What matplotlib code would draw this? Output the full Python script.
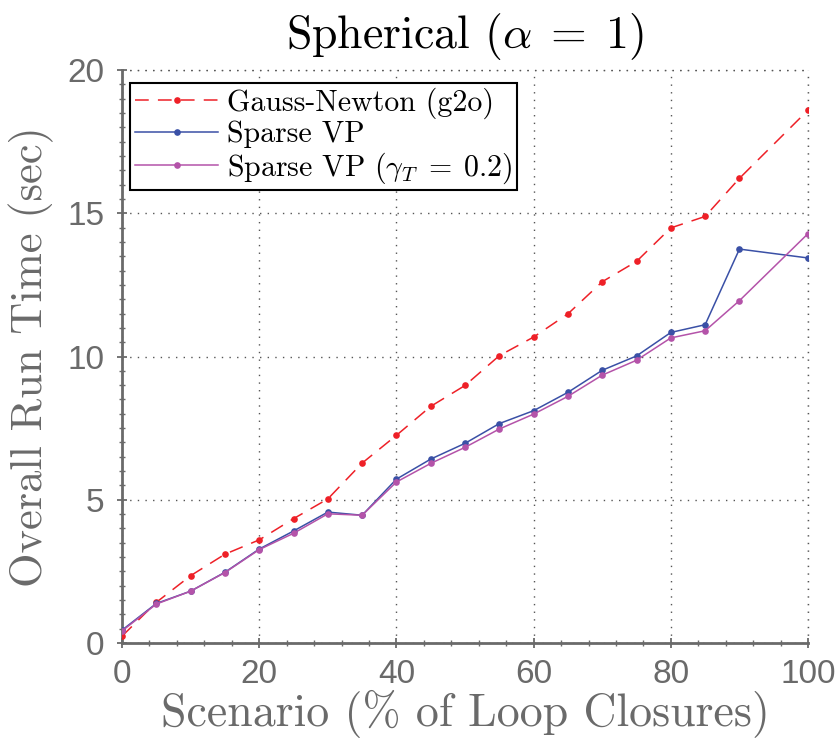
import matplotlib
matplotlib.use("Agg")
import matplotlib.pyplot as plt
from matplotlib.ticker import MultipleLocator

plt.rcParams['mathtext.fontset'] = 'cm'
plt.rcParams['axes.unicode_minus'] = False

scenario = [0, 5, 10, 15, 20, 25, 30, 35, 40, 45, 50, 55, 60, 65, 70, 75, 80, 85, 90, 100]
gauss_newton = [0.24, 1.42, 2.35, 3.10, 3.60, 4.34, 5.03, 6.28, 7.25, 8.26, 8.99, 10.03, 10.68,
                11.49, 12.61, 13.32, 14.49, 14.89, 16.22, 18.60]
sparse_vp = [0.45, 1.38, 1.81, 2.47, 3.28, 3.91, 4.57, 4.46, 5.72, 6.42, 6.97, 7.66, 8.11,
             8.75, 9.52, 10.02, 10.84, 11.11, 13.75, 13.44]
sparse_vp_gamma = [0.42, 1.36, 1.81, 2.46, 3.26, 3.83, 4.51, 4.46, 5.62, 6.27, 6.83, 7.47, 7.99,
                   8.61, 9.35, 9.87, 10.65, 10.90, 11.95, 14.29]

red = '#ee2027'
blue = '#3a50a6'
magenta = '#b453a9'
gray = '#6a6a6a'

fig = plt.figure(figsize=(8.37, 7.49), dpi=100)
ax = fig.add_axes([0.1458, 0.1415, 0.8196, 0.7650])

ax.plot(scenario, gauss_newton, color=red, lw=1.1, ls=(0, (9, 6)), marker='o', ms=4.8,
        markeredgewidth=0, label='Gauss-Newton (g2o)', zorder=3)
ax.plot(scenario, sparse_vp, color=blue, lw=1.1, marker='o', ms=4.8,
        markeredgewidth=0, label='Sparse VP', zorder=4)
ax.plot(scenario, sparse_vp_gamma, color=magenta, lw=1.1, marker='o', ms=4.8,
        markeredgewidth=0, label=r'Sparse VP ($\gamma_T\;=\;0.2$)', zorder=5)

ax.set_xlim(0, 100)
ax.set_ylim(0, 20)
ax.xaxis.set_major_locator(MultipleLocator(20))
ax.xaxis.set_minor_locator(MultipleLocator(4))
ax.yaxis.set_major_locator(MultipleLocator(5))
ax.yaxis.set_minor_locator(MultipleLocator(0.5))

for s in ['top', 'right']:
    ax.spines[s].set_visible(False)
for s in ['left', 'bottom']:
    ax.spines[s].set_color(gray)
    ax.spines[s].set_linewidth(2.0)

ax.tick_params(axis='both', which='major', labelsize=24, colors=gray, length=7, width=1.3,
               direction='inout')
ax.tick_params(axis='both', which='minor', colors=gray, length=4, width=1.0, direction='inout')
ax.tick_params(axis='x', which='major', pad=8)
ax.tick_params(axis='y', which='major', pad=9)
for lab in ax.get_xticklabels() + ax.get_yticklabels():
    lab.set_family(['Liberation Sans', 'DejaVu Sans'])

ax.grid(True, which='major', color='#555555', ls=(0, (1, 4.5)), lw=1.0)
# top and right dotted borders
ax.axhline(20, color='#555555', ls=(0, (1, 4.5)), lw=1.0, clip_on=False)
ax.axvline(100, color='#555555', ls=(0, (1, 4.5)), lw=1.0, clip_on=False)

serif = ['cmr10', 'DejaVu Serif']
ax.set_xlabel('Scenario (% of Loop Closures)', fontsize=33, color=gray, family=serif, labelpad=0)
ax.set_ylabel('Overall Run Time (sec)', fontsize=32, color=gray, family=serif, labelpad=10)
ax.set_title(r'Spherical ($\alpha\;=\;1$)', fontsize=33, color='black', family=serif, pad=16)

leg = ax.legend(loc='upper left', bbox_to_anchor=(0.012, 0.978), frameon=True,
                fancybox=False, edgecolor='black', framealpha=1, numpoints=1,
                handlelength=2.8, handletextpad=0.3, borderpad=0.15, labelspacing=0.07,
                borderaxespad=0, prop={'family': serif, 'size': 21.5})
leg.get_frame().set_linewidth(1.5)

fig.savefig('out.png', dpi=100)
